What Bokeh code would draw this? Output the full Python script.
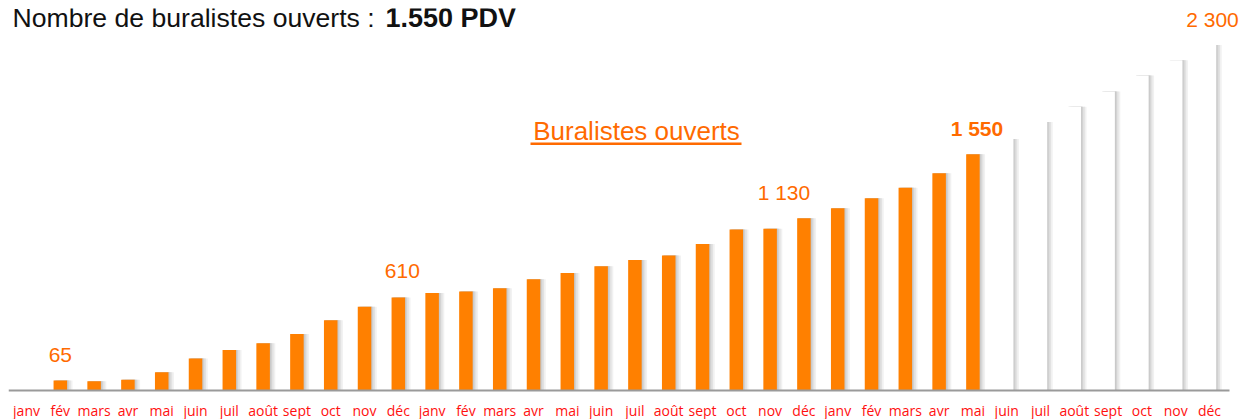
from bokeh.plotting import figure
from bokeh.models import Range1d, FixedTicker, BoxAnnotation, Label
from bokeh.core.properties import value
from bokeh.embed import file_html
from bokeh.resources import INLINE

# ---------------- data ----------------
month_labels = ["janv", "fév", "mars", "avr", "mai", "juin", "juil", "août",
                "sept", "oct", "nov", "déc"] * 3
opened = [0, 65, 60, 70, 120, 210, 265, 310, 370, 460, 550, 610,
          640, 650, 670, 730, 770, 815, 855, 885, 960, 1055, 1060, 1130,
          1195, 1260, 1330, 1425, 1550]
projected = [1650, 1760, 1860, 1960, 2065, 2165, 2265]
label_index = [1, 11, 23, 28, 35]
label_text = ["65", "610", "1 130", "1 550", "2 300"]
label_bold = [False, False, False, True, False]
label_shift = [0, 4, -20, 4, 3]

title_regular = "Nombre de buralistes ouverts : "
title_bold = "1.550 PDV"
series_name = "Buralistes ouverts"

# ---------------- layout ----------------
W, H = 1250, 419
BL, BT = 8, 8
FW, FH = W - BL, 384
XS = 33.8          # px per category
YS = 0.1525        # px per unit
x0 = -0.533
x1 = x0 + FW / XS
y1 = 382 / YS
y0 = y1 - FH / YS

p = figure(width=W, height=H, frame_width=FW, frame_height=FH,
           x_range=Range1d(x0, x1), y_range=Range1d(y0, y1),
           output_backend="svg", toolbar_location=None,
           min_border_left=BL, min_border_right=0, min_border_top=BT,
           min_border_bottom=H - FH - BT)
p.outline_line_color = None
p.background_fill_color = "white"
p.border_fill_color = "white"
p.grid.visible = False
p.yaxis.visible = False

ax = p.xaxis[0]
ax.ticker = FixedTicker(ticks=list(range(len(month_labels))))
ax.major_label_overrides = {i: m for i, m in enumerate(month_labels)}
ax.major_label_text_font = "Open Sans"
ax.major_label_text_font_size = "14px"
ax.major_label_text_color = "#ff1010"
ax.major_label_standoff = 2
ax.axis_line_color = None
ax.major_tick_line_color = None
ax.minor_tick_line_color = None

def px_to_x(px):
    return x0 + px / XS

def py_to_y(py):
    return y1 - py / YS

all_x = list(range(len(opened) + len(projected)))
all_v = opened + projected
x_open = all_x[:len(opened)]
x_proj = all_x[len(opened):]

bw = 0.4
# soft shadows
for dx, col in [(0.16, "#f1f1f1"), (0.11, "#e2e2e2"), (0.06, "#d2d2d2"),
                (0.025, "#c6c6c6")]:
    p.vbar(x=[x + dx for x in all_x], top=all_v, width=bw, bottom=0,
           fill_color=col, line_color=None)

p.vbar(x=x_open, top=opened, width=bw, bottom=0,
       fill_color="#ff8000", line_color=None)
p.vbar(x=x_proj, top=projected, width=bw, bottom=0,
       fill_color="#ffffff", line_color=None)

# baseline (axis line)
p.segment(x0=[x0], y0=[0], x1=[px_to_x(1221)], y1=[0],
          line_color="#9a9a9a", line_width=2)

# value labels
for i, t, b, s in zip(label_index, label_text, label_bold, label_shift):
    p.add_layout(Label(x=i, y=all_v[i], text=t, x_offset=s, y_offset=26,
                       text_align="center", text_baseline="middle",
                       text_font="Liberation Sans", text_font_size="21px",
                       text_font_style="bold" if b else "normal",
                       text_color="#ff6a00"))

# title
p.text(x=[x0], y=[y1], text=[title_regular], x_offset=4, y_offset=9,
       text_align="left", text_baseline="middle",
       text_font=value("Liberation Sans"), text_font_size="26.6px",
       text_color="#111111")
p.text(x=[x0], y=[y1], text=[title_bold], x_offset=377, y_offset=9,
       text_align="left", text_baseline="middle",
       text_font=value("Liberation Sans"), text_font_size="27px",
       text_font_style="bold", text_color="#111111")

# series name (underlined)
p.text(x=[px_to_x(628)], y=[py_to_y(122)], text=[series_name],
       text_align="center", text_baseline="middle",
       text_font=value("Liberation Sans"), text_font_size="26px",
       text_color="#ff6a00")
p.add_layout(BoxAnnotation(left=px_to_x(522), right=px_to_x(733),
                           top=py_to_y(134), bottom=py_to_y(136.5),
                           fill_color="#ff6a00", fill_alpha=1,
                           line_color=None))

open("out.html", "w").write(file_html(p, INLINE))
